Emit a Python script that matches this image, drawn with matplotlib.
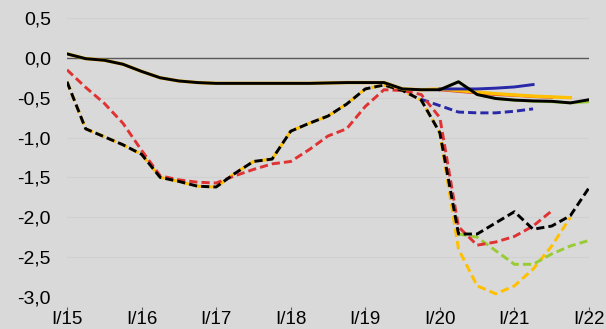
import numpy as np
import matplotlib
matplotlib.use("Agg")
import matplotlib.pyplot as plt

plt.rcParams['font.family'] = ['Liberation Sans', 'DejaVu Sans']

# Quarterly periods, I/15 .. I/22
quarters = list(range(29))
tick_pos = [0, 4, 8, 12, 16, 20, 24, 28]
tick_labels = ["I/15", "I/16", "I/17", "I/18", "I/19", "I/20", "I/21", "I/22"]
y_ticks = [0.5, 0.0, -0.5, -1.0, -1.5, -2.0, -2.5, -3.0]
y_tick_labels = ["0,5", "0,0", "-0,5", "-1,0", "-1,5", "-2,0", "-2,5", "-3,0"]

N = None
# Solid series
solid_black = [0.05, -0.01, -0.03, -0.08, -0.17, -0.25, -0.29, -0.31, -0.32, -0.32,
               -0.32, -0.32, -0.32, -0.32, -0.315, -0.31, -0.31, -0.31, -0.39, -0.40,
               -0.40, -0.30, -0.46, -0.51, -0.53, -0.54, -0.545, -0.565, -0.525]
solid_orange = solid_black[:20] + [-0.39, -0.41, -0.43, -0.45, -0.465, -0.48, -0.49, -0.50, N]
solid_red = [N] * 20 + [-0.40, -0.42, -0.44, -0.46, -0.47, -0.485, -0.495, N, N]
solid_green = [N] * 20 + [-0.40, -0.30, -0.46, -0.51, -0.53, -0.545, -0.55, -0.565, -0.55]
solid_blue = [N] * 20 + [-0.39, -0.39, -0.39, -0.38, -0.365, -0.335, N, N, N]

# Dashed series
dashed_black = [-0.30, -0.89, -0.99, -1.09, -1.21, -1.50, -1.55, -1.61, -1.62, -1.45,
                -1.30, -1.27, -0.92, -0.82, -0.73, -0.58, -0.39, -0.34, -0.41, -0.53,
                -0.94, -2.21, -2.21, -2.07, -1.93, -2.15, -2.11, -1.98, -1.63]
dashed_red = [-0.15, -0.37, -0.57, -0.82, -1.16, -1.48, -1.53, -1.56, -1.57, -1.48,
              -1.40, -1.33, -1.30, -1.15, -0.98, -0.89, -0.61, -0.40, -0.41, -0.46,
              -0.75, -2.12, -2.35, -2.31, -2.24, -2.11, -1.92, N, N]
dashed_yellow = dashed_black[:21] + [-2.40, -2.86, -2.96, -2.86, -2.65, -2.36, -2.00, N]
dashed_green = [N] * 21 + [-2.21, -2.25, -2.42, -2.59, -2.59, -2.46, -2.36, -2.29]
dashed_blue = [N] * 19 + [-0.52, -0.60, -0.68, -0.69, -0.69, -0.67, -0.64, N, N, N]


def arr(v):
    return np.array([np.nan if a is None else a for a in v], dtype=float)


BG = "#d9d9d9"
fig = plt.figure(figsize=(6.06, 3.29), dpi=100, facecolor=BG)
ax = fig.add_axes([67 / 606, 32 / 329, (589 - 67) / 606, (297 - 18) / 329])
ax.set_facecolor(BG)

for yv in y_ticks:
    if yv != 0:
        ax.axhline(yv, color="#d0d0d0", lw=0.8, zorder=0)
ax.axhline(0, color="#595959", lw=1.0, zorder=1)

LW = 2.1
dash = (2.8, 1.4)
x = np.array(quarters)

# dashed lines
ax.plot(x, arr(dashed_yellow), color="#ffc000", lw=LW + 0.05, dashes=dash, zorder=2)
ax.plot(x, arr(dashed_green), color="#99cc33", lw=LW, dashes=dash, zorder=3)
ax.plot(x, arr(dashed_blue), color="#2828a8", lw=LW, dashes=dash, zorder=3)
ax.plot(x, arr(dashed_red), color="#e03232", lw=LW, dashes=dash, zorder=4)
ax.plot(x, arr(dashed_black), color="#000000", lw=LW, dashes=dash, zorder=5)

# solid lines
ax.plot(x, arr(solid_green), color="#99cc33", lw=LW, zorder=6)
ax.plot(x, arr(solid_red), color="#e03232", lw=LW, zorder=6)
ax.plot(x, arr(solid_orange), color="#ffc000", lw=LW + 0.3, zorder=7)
ax.plot(x, arr(solid_blue), color="#2828a8", lw=LW, zorder=7)
ax.plot(x, arr(solid_black), color="#000000", lw=LW, zorder=8)

ax.set_xlim(0, 28)
ax.set_ylim(-3.0, 0.5)
ax.set_yticks(y_ticks)
ax.set_yticklabels(y_tick_labels)
ax.set_xticks(tick_pos)
ax.set_xticklabels(tick_labels)

for s in ["left", "right", "top"]:
    ax.spines[s].set_visible(False)
ax.spines["bottom"].set_position(("outward", 7.2))
ax.spines["bottom"].set_visible(False)

ax.tick_params(axis="y", length=0, pad=11.5, labelsize=14, colors="#000000")
ax.tick_params(axis="x", length=2.2, width=0.8, color="#595959", pad=0.5,
               labelsize=13.5, labelcolor="#000000", direction="out")

fig.savefig("out.png", dpi=100, facecolor=BG)
